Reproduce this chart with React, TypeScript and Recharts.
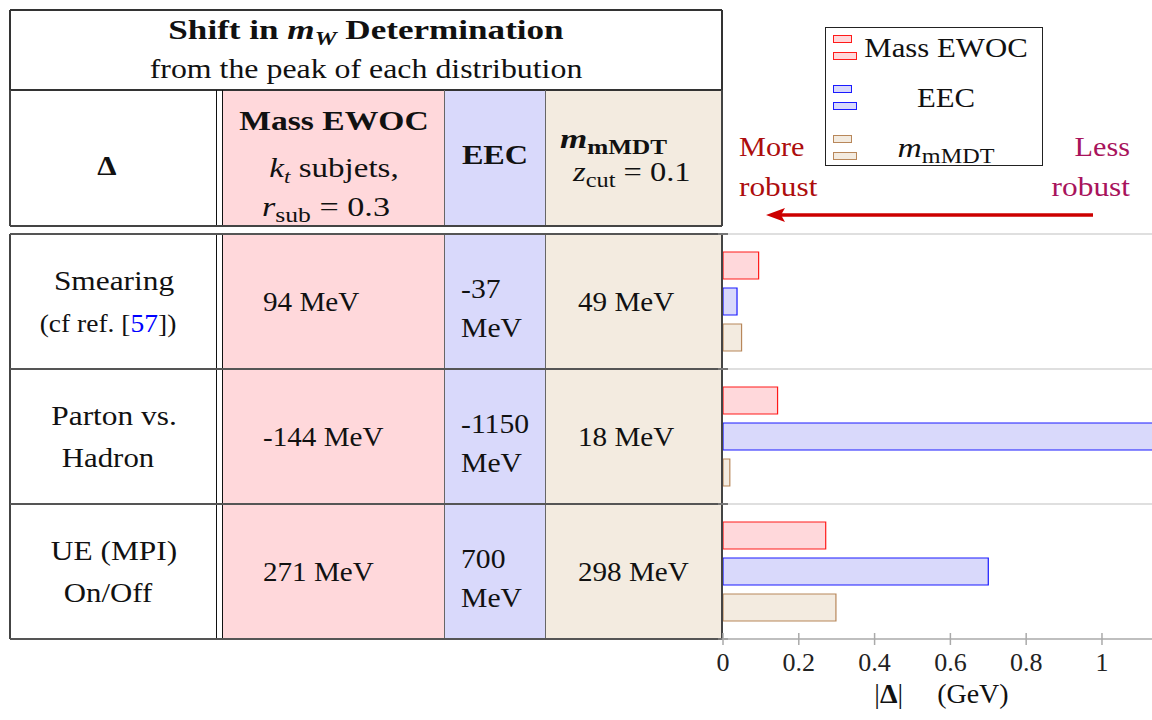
import React from "react"
import { BarChart, Bar, XAxis, YAxis, CartesianGrid, Legend } from "recharts"

// shifts in MeV
const categories = ["Smearing", "Parton vs. Hadron", "UE (MPI) On/Off"]
const rowLabels = [
  ["Smearing", "(cf ref. [57])"],
  ["Parton vs.", "Hadron"],
  ["UE (MPI)", "On/Off"]
]
const ewocShift = [94, -144, 271]
const eecShift = [-37, -1150, 700]
const mmdtShift = [49, 18, 298]
const xTicks = [0, 0.2, 0.4, 0.6, 0.8, 1]
const seriesNames = ["Mass EWOC", "EEC", "m_mMDT"]

const data = categories.map((name, i) => ({
  name,
  ewoc: Math.abs(ewocShift[i]) / 1000,
  eec: Math.abs(eecShift[i]) / 1000,
  mmdt: Math.abs(mmdtShift[i]) / 1000
}))

const SERIF = '"Liberation Serif", "DejaVu Serif", serif'
const PINK = "#ffd8db"
const LAVENDER = "#d9d9fb"
const BEIGE = "#f3ebe0"

const series = [
  { key: "ewoc", name: seriesNames[0], fill: PINK, stroke: "#ff1a1a" },
  { key: "eec", name: seriesNames[1], fill: LAVENDER, stroke: "#1a1aff" },
  { key: "mmdt", name: seriesNames[2], fill: BEIGE, stroke: "#b8875a" }
]

// table geometry
const T_LEFT = 10
const T_RIGHT = 722
const TITLE_TOP = 10
const HEAD_TOP = 90
const HEAD_BOTTOM = 226
const BODY_TOP = 234
const ROW_H = 135
const X_DBL = 216
const X_EWOC = 222
const X_EEC = 444
const X_MMDT = 545

const Sub = ({ children, size = "0.7em" }: any) => (
  <span style={{ fontSize: size, position: "relative", top: "0.3em" }}>{children}</span>
)

function renderName(name: string, subSize?: string) {
  if (!name.includes("_")) return name
  const [base, sub] = name.split("_")
  return (
    <>
      <i>{base}</i>
      <Sub size={subSize}>{sub}</Sub>
    </>
  )
}

function renderLabelLine(text: string) {
  // reference numbers in brackets are links (blue)
  const parts = text.split(/(\d+)/)
  return parts.map((p, i) =>
    /^\d+$/.test(p) ? <span key={i} style={{ color: "#0000ff" }}>{p}</span> : <span key={i}>{p}</span>
  )
}

function Box({ l, t, w, h, bg }: any) {
  return <div style={{ position: "absolute", left: l, top: t, width: w, height: h, background: bg }} />
}

function HLine({ x1, x2, y, c = "#555", s = 2 }: any) {
  return <Box l={x1} t={y - s / 2} w={x2 - x1} h={s} bg={c} />
}

function VLine({ x, y1, y2, c = "#555", s = 1 }: any) {
  return <Box l={x - s / 2} t={y1} w={s} h={y2 - y1} bg={c} />
}

// computer-modern text is wider than Liberation Serif, so stretch a bit
function Txt({ x, y, align = "left", size = 28, sx = 1, style, children }: any) {
  const tx = align === "center" ? "-50%" : align === "right" ? "-100%" : "0"
  const origin = align === "center" ? "50% 50%" : align === "right" ? "100% 50%" : "0 50%"
  return (
    <div
      style={{
        position: "absolute",
        left: x,
        top: y,
        transform: `translate(${tx}, -50%) scaleX(${sx})`,
        transformOrigin: origin,
        whiteSpace: "nowrap",
        lineHeight: 1,
        fontSize: size,
        fontFamily: SERIF,
        color: "#111",
        ...style
      }}
    >
      {children}
    </div>
  )
}

function DataTable() {
  const bodyBottom = BODY_TOP + ROW_H * categories.length
  const colLines = (y1: number, y2: number) => (
    <>
      <VLine x={T_LEFT} y1={y1} y2={y2} c="#444" s={2} />
      <VLine x={X_DBL} y1={y1} y2={y2} c="#111" />
      <VLine x={X_EWOC} y1={y1} y2={y2} c="#111" />
      <VLine x={X_EEC} y1={y1} y2={y2} c="#666" />
      <VLine x={X_MMDT} y1={y1} y2={y2} c="#666" />
      <VLine x={T_RIGHT} y1={y1} y2={y2} c="#444" s={2} />
    </>
  )
  return (
    <>
      {/* column shading */}
      {[
        [HEAD_TOP, HEAD_BOTTOM],
        [BODY_TOP, bodyBottom]
      ].map(([t, b], k) => (
        <React.Fragment key={k}>
          <Box l={X_EWOC} t={t} w={X_EEC - X_EWOC} h={b - t} bg={PINK} />
          <Box l={X_EEC} t={t} w={X_MMDT - X_EEC} h={b - t} bg={LAVENDER} />
          <Box l={X_MMDT} t={t} w={T_RIGHT - X_MMDT} h={b - t} bg={BEIGE} />
        </React.Fragment>
      ))}

      {/* title box */}
      <HLine x1={T_LEFT} x2={T_RIGHT} y={TITLE_TOP} c="#333" />
      <HLine x1={T_LEFT} x2={T_RIGHT} y={HEAD_TOP} c="#333" />
      <VLine x={T_LEFT} y1={TITLE_TOP} y2={HEAD_TOP} c="#333" s={2} />
      <VLine x={T_RIGHT} y1={TITLE_TOP} y2={HEAD_TOP} c="#333" s={2} />
      <Txt x={366} y={30} align="center" size={27} sx={1.3} style={{ fontWeight: "bold" }}>
        Shift in <i>m</i>
        <Sub>
          <i>W</i>
        </Sub>{" "}
        Determination
      </Txt>
      <Txt x={366} y={69} align="center" size={27} sx={1.18}>
        from the peak of each distribution
      </Txt>

      {/* header row */}
      {colLines(HEAD_TOP, HEAD_BOTTOM)}
      <HLine x1={T_LEFT} x2={T_RIGHT} y={HEAD_BOTTOM} c="#444" />
      <Txt x={107} y={166} align="center" sx={1.1} style={{ fontWeight: "bold" }}>
        Δ
      </Txt>
      <Txt x={334} y={121} align="center" sx={1.2} style={{ fontWeight: "bold" }}>
        {seriesNames[0]}
      </Txt>
      <Txt x={334} y={168} align="center" sx={1.18}>
        <i>k</i>
        <Sub>
          <i>t</i>
        </Sub>{" "}
        subjets,
      </Txt>
      <Txt x={326} y={207} align="center" sx={1.22}>
        <i>r</i>
        <Sub size="0.75em">sub</Sub> = 0.3
      </Txt>
      <Txt x={495} y={155} align="center" sx={1.15} style={{ fontWeight: "bold" }}>
        {seriesNames[1]}
      </Txt>
      <Txt x={560} y={139} sx={1.25} style={{ fontWeight: "bold" }}>
        {renderName(seriesNames[2], "0.72em")}
      </Txt>
      <Txt x={573} y={172} sx={1.16}>
        <i>z</i>
        <Sub size="0.75em">cut</Sub> = 0.1
      </Txt>

      {/* body */}
      {colLines(BODY_TOP, bodyBottom)}
      {categories.map((_, i) => {
        const top = BODY_TOP + i * ROW_H
        const cy = top + ROW_H / 2
        return (
          <React.Fragment key={i}>
            <HLine x1={T_LEFT} x2={T_RIGHT} y={top} c="#555" />
            <Txt x={114} y={cy - 21} align="center" sx={1.12}>
              {rowLabels[i][0]}
            </Txt>
            <Txt x={108} y={cy + 21} align="center" size={i === 0 ? 25 : 28} sx={1.1}>
              {renderLabelLine(rowLabels[i][1])}
            </Txt>
            <Txt x={263} y={cy} sx={1.04}>
              {ewocShift[i]} MeV
            </Txt>
            <Txt x={461} y={cy - 13} sx={1.06}>
              {eecShift[i]}
            </Txt>
            <Txt x={461} y={cy + 26} sx={1.06}>
              MeV
            </Txt>
            <Txt x={578} y={cy} sx={1.04}>
              {mmdtShift[i]} MeV
            </Txt>
          </React.Fragment>
        )
      })}
      <HLine x1={T_LEFT} x2={T_RIGHT} y={bodyBottom} c="#555" />
    </>
  )
}

function LegendBox({ payload }: any) {
  const items = series.map((s) => ({ ...s, entry: (payload || []).find((p: any) => p.dataKey === s.key) }))
  return (
    <div
      style={{
        width: 218,
        height: 139,
        boxSizing: "border-box",
        border: "1.5px solid #222",
        background: "#fff",
        position: "relative",
        fontFamily: SERIF,
        color: "#111"
      }}
    >
      {items.map((s, i) => {
        const cy = 20 + i * 50
        const stroke = s.entry?.payload?.stroke ?? s.stroke
        const iconStyle: React.CSSProperties = {
          position: "absolute",
          left: 7,
          height: 8,
          boxSizing: "border-box",
          background: s.fill,
          border: `1.5px solid ${stroke}`
        }
        return (
          <React.Fragment key={s.key}>
            <div style={{ ...iconStyle, top: cy - 13, width: 19 }} />
            <div style={{ ...iconStyle, top: cy + 4, width: 24 }} />
            <div
              style={{
                position: "absolute",
                left: 37,
                width: 166,
                top: cy,
                transform: `translateY(-50%) scaleX(${s.name.includes("_") ? 1.2 : 1.1})`,
                textAlign: "center",
                fontSize: 28,
                lineHeight: 1,
                whiteSpace: "nowrap"
              }}
            >
              {renderName(s.name, "0.72em")}
            </div>
          </React.Fragment>
        )
      })}
    </div>
  )
}

function XTick({ x, y, payload }: any) {
  return (
    <g>
      <line x1={x} x2={x} y1={y - 6} y2={y + 6} stroke="#aaa" strokeWidth={1.5} />
      <text x={x} y={y + 32} textAnchor="middle" fontSize={26} fontFamily={SERIF} fill="#222">
        {String(payload.value)}
      </text>
    </g>
  )
}

function AxisTitle({ viewBox }: any) {
  const cx = viewBox.x + viewBox.width / 2 + 4
  return (
    <text x={cx} y={viewBox.y + 64} textAnchor="middle" fontSize={28} fontFamily={SERIF} fill="#111">
      |<tspan fontWeight="bold">Δ</tspan>|<tspan dx={34}>(GeV)</tspan>
    </text>
  )
}

// horizontal grid lines on category boundaries, with a small tick left of the axis
const bandLines = ({ offset }: any) => {
  const n = categories.length
  const out: number[] = []
  for (let i = 0; i <= n; i++) out.push(offset.top + (i * offset.height) / n)
  return out
}

const GridLine = (props: any) => (
  <g key={props.key}>
    <line x1={props.x1} x2={props.x2} y1={props.y1} y2={props.y2} stroke="#d4d4d4" strokeWidth={1.5} />
    <line x1={props.x1 - 5} x2={props.x1 + 5} y1={props.y1} y2={props.y2} stroke="#777" strokeWidth={2} />
  </g>
)

function RobustArrow() {
  return (
    <>
      <Txt x={739} y={147} sx={1.08} style={{ color: "#ad0d0d" }}>
        More
      </Txt>
      <Txt x={739} y={187} sx={1.12} style={{ color: "#ad0d0d" }}>
        robust
      </Txt>
      <Txt x={1130} y={147} align="right" sx={1.08} style={{ color: "#a8135c" }}>
        Less
      </Txt>
      <Txt x={1130} y={187} align="right" sx={1.12} style={{ color: "#a8135c" }}>
        robust
      </Txt>
      <svg width={1152} height={720} style={{ position: "absolute", left: 0, top: 0, pointerEvents: "none" }}>
        <line x1={1093} y1={215} x2={778} y2={215} stroke="#cc0000" strokeWidth={3.5} />
        <path d="M766 215 L785 208 L781 215 L785 222 Z" fill="#cc0000" />
      </svg>
    </>
  )
}

export default function App() {
  return (
    <div style={{ position: "relative", width: 1152, height: 720, background: "#fff", overflow: "hidden" }}>
      <style>{"html,body{margin:0;padding:0;overflow:hidden;}"}</style>
      <DataTable />
      <div style={{ position: "absolute", left: 0, top: 0 }}>
        <BarChart
          width={1152}
          height={720}
          data={data}
          layout="vertical"
          margin={{ top: 234, right: 0, bottom: 0, left: 723 }}
          barCategoryGap="13.33%"
          barGap={9}
        >
          <CartesianGrid vertical={false} horizontalCoordinatesGenerator={bandLines} horizontal={GridLine} />
          <XAxis
            type="number"
            domain={[0, 1.132]}
            ticks={xTicks}
            allowDataOverflow
            interval={0}
            height={81}
            tickSize={0}
            tickMargin={0}
            tickLine={false}
            axisLine={{ stroke: "#b5b5b5", strokeWidth: 1.5 }}
            tick={<XTick />}
            label={<AxisTitle />}
          />
          <YAxis
            type="category"
            dataKey="name"
            width={0}
            tick={false}
            tickLine={false}
            axisLine={{ stroke: "#000", strokeWidth: 2 }}
          />
          <Legend
            layout="vertical"
            align="center"
            verticalAlign="middle"
            wrapperStyle={{ left: 825, top: 27, width: 218, height: 139 }}
            content={(props: any) => <LegendBox payload={props.payload} />}
          />
          {series.map((s) => (
            <Bar
              key={s.key}
              dataKey={s.key}
              name={s.name}
              fill={s.fill}
              stroke={s.stroke}
              strokeWidth={1.2}
              isAnimationActive={false}
            />
          ))}
        </BarChart>
      </div>
      <RobustArrow />
    </div>
  )
}
